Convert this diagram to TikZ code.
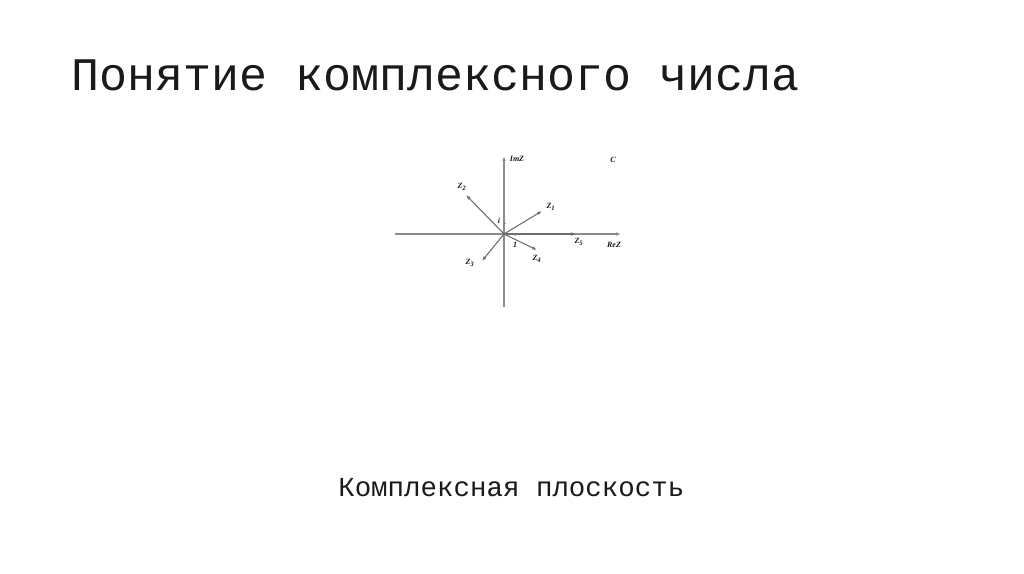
\documentclass[tikz,border=0pt]{standalone}
\usepackage{fontspec}
\usepackage{xcolor}
\usetikzlibrary{calc,arrows.meta}
\newfontfamily\monofont{Liberation Mono}
\newfontfamily\labfont{Liberation Serif}
\definecolor{bg}{HTML}{FFFFFF}
\definecolor{ink}{HTML}{1A1A1A}
\definecolor{axis}{HTML}{8C8C8C}
\definecolor{vec}{HTML}{6E6E6E}
\tikzset{
  ax/.style={draw=axis, line width=0.8pt, -{Latex[length=3.6pt,width=2.6pt]}},
  vecz/.style={draw=vec, line width=0.8pt, -{Latex[length=3.6pt,width=2.6pt]}},
  tickm/.style={draw=axis, line width=0.5pt},
  lab/.style={text=ink, font=\labfont\itshape\bfseries\fontsize{6}{7}\selectfont, inner sep=0pt},
  ttl/.style={text=ink, font=\monofont\fontsize{35}{40}\selectfont, inner sep=0pt, anchor=base west},
  captxt/.style={text=ink, font=\monofont\fontsize{20.6}{24}\selectfont, inner sep=0pt, anchor=base west},
}
\begin{document}
\begin{tikzpicture}[x=0.75pt,y=-0.75pt]
  \fill[bg] (0,0) rectangle (1024,574);
  \useasboundingbox (0,0) rectangle (1024,574);
  % texts
  \node[ttl] (title) at (71,91) {Понятие комплексного числа};
  \node[captxt] (caption) at (338,496) {Комплексная плоскость};
  % plane
  \coordinate (O) at (504,234);
  \coordinate (Xl) at (395,234);
  \coordinate (Xr) at (621,234);
  \coordinate (Yb) at (504,307);
  \coordinate (Yt) at (504,156);
  \coordinate (P1) at (542,211);
  \coordinate (P2) at (466,195);
  \coordinate (P3) at (482,261);
  \coordinate (P4) at (537,250);
  \coordinate (P5) at (576,234);
  \draw[ax] (Xl)--(Xr);
  \draw[ax] (Yb)--(Yt);
  \draw[vecz] (O)--(P5);
  \draw[vecz] (O)--(P1);
  \draw[vecz] (O)--(P2);
  \draw[vecz] (O)--(P3);
  \draw[vecz] (O)--(P4);
  \draw[tickm] ($(O)+(0,-11)$)--++(1.5,0);
  \draw[tickm] ($(O)+(11,0)$)--++(0,1.5);
  \fill[vec] (O) circle (1.3);
  % labels
  \node[lab] (im) at (517,159) {ImZ};
  \node[lab] (re) at (614,245) {ReZ};
  \node[lab] (cc) at (613,160) {C};
  \node[lab] (l1) at (551,207) {Z\textsubscript{1}};
  \node[lab] (l2) at (462,187) {Z\textsubscript{2}};
  \node[lab] (l3) at (470,263) {Z\textsubscript{3}};
  \node[lab] (l4) at (537,259) {Z\textsubscript{4}};
  \node[lab] (l5) at (579,242) {Z\textsubscript{5}};
  \node[lab] (li) at (499,221) {i};
  \node[lab] (lo) at (515,245) {1};
\end{tikzpicture}
\end{document}
